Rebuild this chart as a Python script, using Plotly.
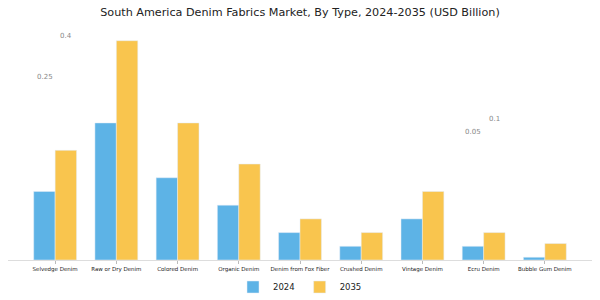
import plotly.graph_objects as go

categories = ["Selvedge Denim", "Raw or Dry Denim", "Colored Denim", "Organic Denim",
              "Denim from Fox Fiber", "Crushed Denim", "Vintage Denim", "Ecru Denim",
              "Bubble Gum Denim"]
values_2024 = [0.125, 0.25, 0.15, 0.1, 0.05, 0.025, 0.075, 0.025, 0.005]
values_2035 = [0.2, 0.4, 0.25, 0.175, 0.075, 0.05, 0.125, 0.05, 0.03]

stray_labels = ["0.4", "0.25", "0.1", "0.05"]

L, R, T, B = 8, 8, 30, 40
W, H = 600, 300
pw, ph = W - L - R, H - T - B

def px(x): return (x - L) / pw
def py(y): return (H - B - y) / ph

fig = go.Figure()
fig.add_trace(go.Bar(name="2024", x=categories, y=values_2024, marker_color="#5DB3E6"))
fig.add_trace(go.Bar(name="2035", x=categories, y=values_2035, marker_color="#F9C54E"))

label_pos = [(66, 36), (45, 77), (494, 119), (473, 132)]
for t, (x, y) in zip(stray_labels, label_pos):
    fig.add_annotation(text=t, xref="paper", yref="paper", x=px(x), y=py(y),
                       xanchor="center", yanchor="middle",
                       showarrow=False, font=dict(size=7, color="#888888",
                       family="DejaVu Sans"))

fig.update_layout(
    width=W, height=H,
    margin=dict(l=L, r=R, t=T, b=B, autoexpand=False),
    paper_bgcolor="white", plot_bgcolor="white",
    title=dict(text="South America Denim Fabrics Market, By Type, 2024-2035 (USD Billion)",
               x=0.5, xanchor="center", y=1 - 12 / H, yanchor="middle",
               font=dict(size=11.2, color="#222222", family="DejaVu Sans")),
    barmode="group", bargap=0.3, bargroupgap=0,
    showlegend=True,
    legend=dict(orientation="h", x=0.5, xanchor="center", y=py(287), yanchor="middle",
                font=dict(size=8.5, color="#222222", family="DejaVu Sans")),
    xaxis=dict(range=[-0.77, 8.77], showline=True, linecolor="#dddddd", linewidth=1,
               ticks="outside", ticklen=3, tickcolor="#bbbbbb",
               tickfont=dict(size=5.5, color="#222222", family="DejaVu Sans"),
               showgrid=False, zeroline=False, tickangle=0, automargin=False),
    yaxis=dict(range=[0, 0.4195], visible=False, showgrid=False, zeroline=False),
    font=dict(family="DejaVu Sans"),
)

fig.write_html("out.html")
